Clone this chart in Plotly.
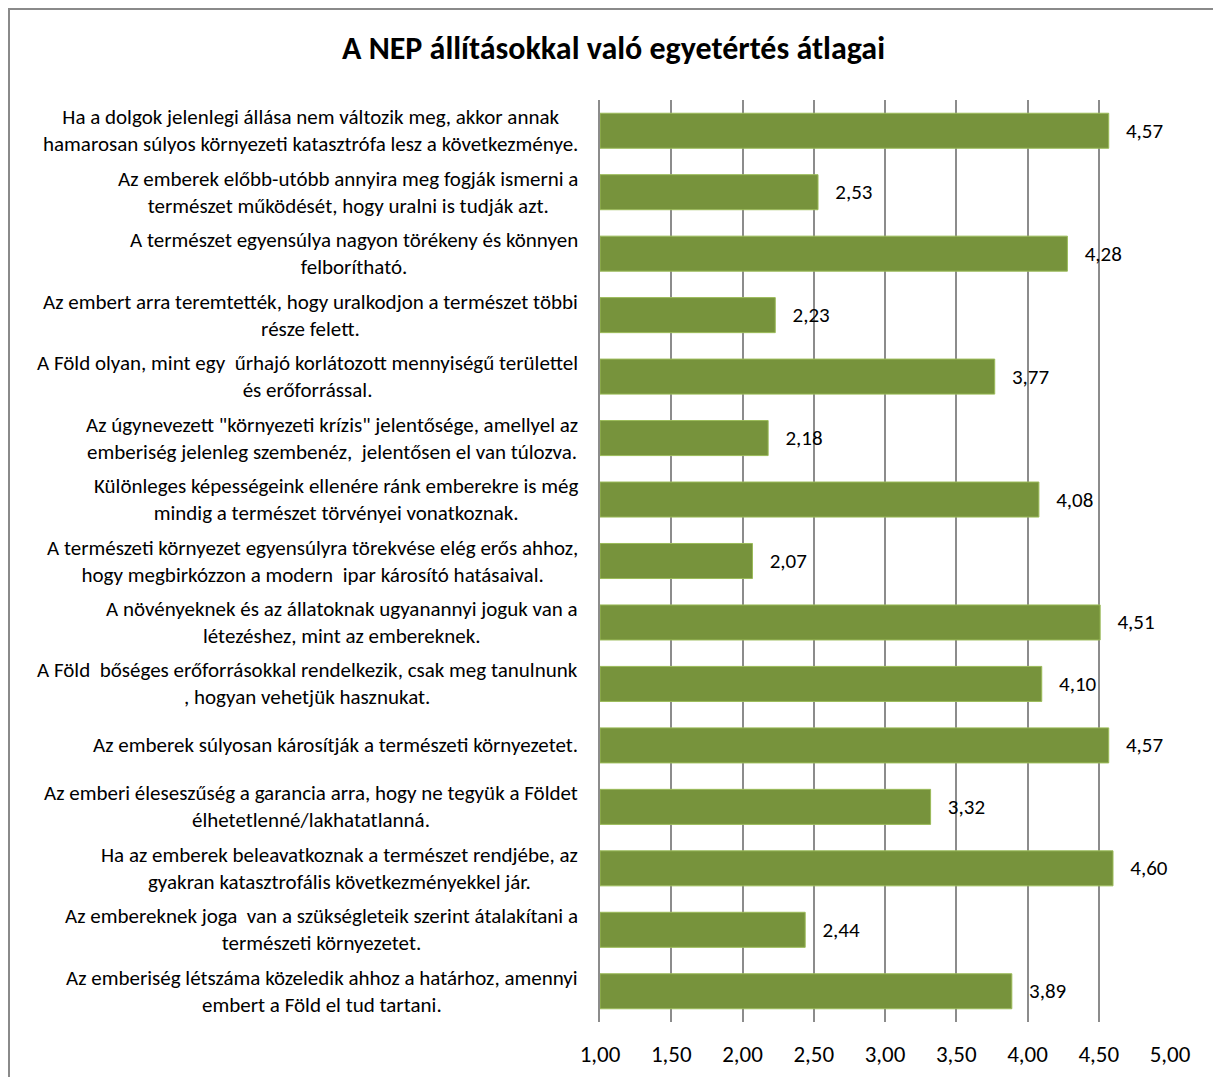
import plotly.graph_objects as go

title = "A NEP állításokkal való egyetértés átlagai"

statements = [
    "Ha a dolgok jelenlegi állása nem változik meg, akkor annak<br>hamarosan súlyos környezeti katasztrófa lesz a következménye.",
    "Az emberek előbb-utóbb annyira meg fogják ismerni a<br>természet működését, hogy uralni is tudják azt.",
    "A természet egyensúlya nagyon törékeny és könnyen<br>felborítható.",
    "Az embert arra teremtették, hogy uralkodjon a természet többi<br>része felett.",
    "A Föld olyan, mint egy  űrhajó korlátozott mennyiségű területtel<br>és erőforrással.",
    "Az úgynevezett \"környezeti krízis\" jelentősége, amellyel az<br>emberiség jelenleg szembenéz,  jelentősen el van túlozva.",
    "Különleges képességeink ellenére ránk emberekre is még<br>mindig a természet törvényei vonatkoznak.",
    "A természeti környezet egyensúlyra törekvése elég erős ahhoz,<br>hogy megbirkózzon a modern  ipar károsító hatásaival.",
    "A növényeknek és az állatoknak ugyanannyi joguk van a<br>létezéshez, mint az embereknek.",
    "A Föld  bőséges erőforrásokkal rendelkezik, csak meg tanulnunk<br>, hogyan vehetjük hasznukat.",
    "Az emberek súlyosan károsítják a természeti környezetet.",
    "Az emberi éleseszűség a garancia arra, hogy ne tegyük a Földet<br>élhetetlenné/lakhatatlanná.",
    "Ha az emberek beleavatkoznak a természet rendjébe, az<br>gyakran katasztrofális következményekkel jár.",
    "Az embereknek joga  van a szükségleteik szerint átalakítani a<br>természeti környezetet.",
    "Az emberiség létszáma közeledik ahhoz a határhoz, amennyi<br>embert a Föld el tud tartani.",
]
means = [4.57, 2.53, 4.28, 2.23, 3.77, 2.18, 4.08, 2.07, 4.51, 4.10, 4.57, 3.32, 4.60, 2.44, 3.89]
x_ticks = [1.0, 1.5, 2.0, 2.5, 3.0, 3.5, 4.0, 4.5, 5.0]

FONT = "Carlito, Calibri, Lato, sans-serif"
GREEN = "#77933C"
GRID = "#8C8C8C"

# the page body has an 8px margin, so the figure is sized/positioned to compensate
W, H = 1213, 1069
ML, MR, MT, MB = 592, 51, 92, 55
PW, PH = W - ML - MR, H - MT - MB

cats = list(range(len(statements)))

fig = go.Figure(
    go.Bar(
        y=cats,
        x=[m - 1.0 for m in means],
        base=1.0,
        orientation="h",
        marker=dict(color=GREEN, line=dict(color="#9BBB59", width=1)),
        text=["   " + f"{m:.2f}".replace(".", ",") for m in means],
        textposition="outside",
        textfont=dict(family=FONT, size=21, color="#000000"),
        cliponaxis=False,
        hoverinfo="skip",
    )
)

for c, s in zip(cats, statements):
    fig.add_annotation(
        x=0, xref="paper", y=c, yref="y",
        text=s, showarrow=False,
        xanchor="right", yanchor="middle", align="center",
        xshift=-20,
        font=dict(family=FONT, size=21, color="#000000"),
    )

fig.update_layout(
    width=W, height=H,
    margin=dict(l=ML, r=MR, t=MT, b=MB),
    paper_bgcolor="white", plot_bgcolor="white",
    separators=",.",
    bargap=0.43,
    showlegend=False,
    title=dict(text="<b>" + title + "</b>", x=605.5 / W, xanchor="center",
               y=1 - 40 / H, yanchor="middle",
               font=dict(family=FONT, size=32, color="#000000")),
    xaxis=dict(
        range=[1, 5], tickvals=x_ticks, tickformat=".2f",
        showgrid=True, gridcolor=GRID, gridwidth=2,
        zeroline=False, showline=False,
        ticks="outside", ticklen=11, tickcolor="rgba(0,0,0,0)",
        tickfont=dict(family=FONT, size=23, color="#000000"),
        automargin=False,
        fixedrange=True,
    ),
    yaxis=dict(
        range=[len(cats) - 0.5, -0.5],
        showticklabels=False, showgrid=False, zeroline=False,
        showline=True, linecolor=GRID, linewidth=2,
        automargin=False,
        fixedrange=True,
    ),
    shapes=[dict(type="rect", xref="paper", yref="paper",
                 x0=(1 - ML) / PW, x1=(W - 1 - ML) / PW,
                 y0=-(MB + 10) / PH, y1=1 + (MT - 1) / PH,
                 line=dict(color="#8A8A8A", width=2), fillcolor="rgba(0,0,0,0)",
                 layer="below")],
)

fig.write_html("out.html")
